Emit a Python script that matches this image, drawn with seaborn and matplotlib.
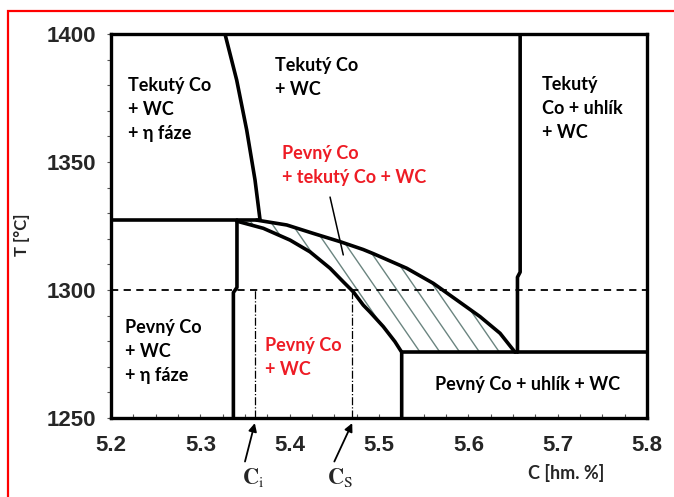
"""
Fazovy diagram WC-Co (rez pri ~10 % Co) - prepis obrazku v seaborn
"""

# ----------------------------------------------------------
# 0) Importy
# ----------------------------------------------------------
import matplotlib
matplotlib.use("Agg")
import matplotlib.pyplot as plt
from matplotlib.patches import Rectangle, Polygon
from matplotlib.ticker import MultipleLocator
import numpy as np
import seaborn as sns

# ----------------------------------------------------------
# 1) Data
# ----------------------------------------------------------
# strma hranice likvidu (leva horni oblast)
liq_steep_c = [5.3276, 5.3407, 5.3519, 5.3612, 5.3668]
liq_steep_t = [1400.0, 1382.0, 1362.5, 1343.0, 1327.5]

# horni krivka oblasti pevny + tekuty Co + WC
upper_c = [5.3631, 5.3967, 5.4265, 5.4563, 5.4824, 5.4936, 5.5310,
           5.5608, 5.5870, 5.6131, 5.6355, 5.6523]
upper_t = [1327.3, 1325.4, 1322.1, 1318.9, 1315.8, 1314.2, 1308.5,
           1302.6, 1296.1, 1289.6, 1283.1, 1275.7]

# spodni krivka (solidus) az do rohu 5.525 / 1275
lower_c = [5.3407, 5.3705, 5.4004, 5.4228, 5.4452, 5.4600, 5.4712,
           5.4824, 5.4899, 5.5048, 5.5179, 5.5254]
lower_t = [1326.9, 1324.1, 1319.5, 1314.9, 1308.5, 1303.2, 1299.3,
           1294.1, 1291.4, 1285.7, 1279.8, 1275.7]

# svisle a vodorovne hranice
left_vert_c = [5.337, 5.337, 5.341, 5.341]
left_vert_t = [1250, 1299, 1301, 1327.3]
right_vert_c = [5.655, 5.655, 5.658, 5.658]
right_vert_t = [1275.7, 1305, 1307, 1400]
eta_limit_t = 1327.3          # vodorovna hranice vlevo
eutect_t = 1275.7             # vodorovna hranice vpravo dole
eutect_c = 5.5254             # svisla hranice dole
liq_steep_end = 5.3668

T_ref = 1300                  # carkovana cara
c_i = 5.361
c_s = 5.470

x_ticks = [5.2, 5.3, 5.4, 5.5, 5.6, 5.7, 5.8]
y_ticks = [1250, 1300, 1350, 1400]

# srafovani: krok a sklon car (v datovych jednotkach)
hatch_anchor = 5.546
hatch_step = 0.0222
hatch_slope = -506.0

BLACK = "#000000"
RED = "#ee1c25"
HATCH = "#6b8580"

# ----------------------------------------------------------
# 2) Styl
# ----------------------------------------------------------
sns.set_theme(style="white")
plt.rcParams["font.family"] = ["Lato", "DejaVu Sans"]
plt.rcParams["mathtext.fontset"] = "stix"

fig = plt.figure(figsize=(6.74, 4.97), dpi=100)
ax = fig.add_axes([111 / 674, 1 - 418 / 497, 536 / 674, 384 / 497])

line_kw = dict(color=BLACK, linewidth=2.6, sort=False, estimator=None, ax=ax)

# ----------------------------------------------------------
# 3) Hranice fazi
# ----------------------------------------------------------
ax.set_xlim(5.2, 5.8)
ax.set_ylim(1250, 1400)

# srafovana oblast pevny + tekuty Co + WC (cary orezane polygonem)
clip_poly = Polygon(np.column_stack([upper_c + lower_c[::-1],
                                     upper_t + lower_t[::-1]]),
                    closed=True, transform=ax.transData)
for k in range(-14, 8):
    c0 = hatch_anchor + k * hatch_step
    hl, = ax.plot([c0, c0 + 70 / hatch_slope], [eutect_t, eutect_t + 70],
                  color=HATCH, linewidth=1.0, zorder=1)
    hl.set_clip_path(clip_poly)

sns.lineplot(x=liq_steep_c, y=liq_steep_t, **line_kw)
sns.lineplot(x=upper_c, y=upper_t, **line_kw)
sns.lineplot(x=lower_c + [eutect_c], y=lower_t + [1250], **line_kw)
sns.lineplot(x=left_vert_c, y=left_vert_t, **line_kw)
sns.lineplot(x=right_vert_c, y=right_vert_t, **line_kw)
sns.lineplot(x=[5.2, liq_steep_end], y=[eta_limit_t, eta_limit_t], **line_kw)
sns.lineplot(x=[eutect_c, 5.8], y=[eutect_t, eutect_t], **line_kw)

# referencni teplota a koncentrace Ci, Cs
ax.axhline(T_ref, color=BLACK, linestyle=(0, (4, 3)), linewidth=1.3)
for c in (c_i, c_s):
    ax.plot([c, c], [1250, T_ref], color=BLACK, linestyle="-.", linewidth=0.9)

# ----------------------------------------------------------
# 4) Popisky oblasti
# ----------------------------------------------------------
txt_kw = dict(fontsize=13, fontweight="bold", va="center", ha="left", linespacing=1.5)
ax.text(5.219, 1370.7, "Tekutý Co\n+ WC\n+ η fáze", color=BLACK, **txt_kw)
ax.text(5.384, 1383.2, "Tekutý Co\n+ WC", color=BLACK, **txt_kw)
ax.text(5.682, 1371.0, "Tekutý\nCo + uhlík\n+ WC", color=BLACK, **txt_kw)
ax.text(5.391, 1348.8, "Pevný Co\n+ tekutý Co + WC", color=RED, **txt_kw)
ax.text(5.216, 1275.8, "Pevný Co\n+ WC\n+ η fáze", color=BLACK, **txt_kw)
ax.text(5.372, 1273.8, "Pevný Co\n+ WC", color=RED, **txt_kw)
ax.text(5.666, 1262.9, "Pevný Co + uhlík + WC", color=BLACK, fontsize=13,
        fontweight="bold", ha="center", va="center")

# odkaz na srafovanou oblast
ax.plot([5.4452, 5.4600], [1336.3, 1313.7], color=BLACK, linewidth=1.1)

# sipky Ci a Cs pod osou
for c, tail_c, lab, lab_c in ((c_i, 5.350, r"$\mathbf{C}_{\mathrm{i}}$", 5.359),
                              (c_s, 5.450, r"$\mathbf{C}_{\mathrm{S}}$", 5.456)):
    ax.annotate("", xy=(c, 1248), xytext=(tail_c, 1233), annotation_clip=False,
                arrowprops=dict(arrowstyle="-|>", color=BLACK, lw=1.3,
                                mutation_scale=12, shrinkA=0, shrinkB=0))
    ax.text(lab_c, 1226.6, lab, fontsize=16, ha="center", va="center", clip_on=False)

# ----------------------------------------------------------
# 5) Osy
# ----------------------------------------------------------
ax.set_xticks(x_ticks)
ax.set_yticks(y_ticks)
ax.set_xticklabels([f"{v:.1f}" for v in x_ticks], fontfamily="Liberation Sans",
                   fontweight="bold", fontsize=16)
ax.set_yticklabels([str(v) for v in y_ticks], fontfamily="Liberation Sans",
                   fontweight="bold", fontsize=16)
ax.xaxis.set_minor_locator(MultipleLocator(0.025))
ax.yaxis.set_minor_locator(MultipleLocator(10))
ax.tick_params(axis="x", which="both", direction="in", bottom=True, top=False,
               length=3, width=0.8, color="#555555", pad=12)
ax.tick_params(axis="y", which="both", direction="out", left=True, right=False,
               length=3, width=0.8, color="#555555", pad=8)

for sp in ax.spines.values():
    sp.set_linewidth(2.4)
    sp.set_color(BLACK)

ax.set_ylabel("T [°C]", fontsize=12, fontweight="bold")
ax.yaxis.set_label_coords(-0.151, 0.477)
ax.set_xlabel("C [hm. %]", fontsize=13, fontweight="bold", va="center")
ax.xaxis.set_label_coords(0.849, -0.143)

# cerveny ramecek kolem obrazku
fig.patches.append(Rectangle((8 / 674, -0.2), 1.5, 1.2 - 11 / 497, fill=False,
                             edgecolor="red", linewidth=1.6,
                             transform=fig.transFigure, figure=fig))

plt.savefig("out.png", dpi=100)
plt.close()
